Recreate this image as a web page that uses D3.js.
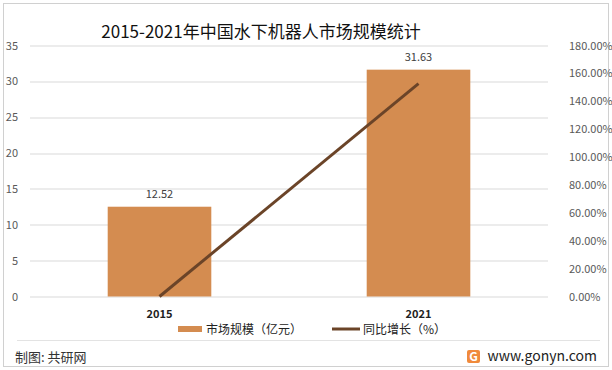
<!DOCTYPE html>
<html>
<head>
<meta charset="utf-8">
<script src="https://cdn.jsdelivr.net/npm/d3@7"></script>
<style>
  body { margin: 0; background: #fff; }
  svg { display: block; }
</style>
</head>
<body>
<div id="chart"></div>
<script>
const years = ["2015", "2021"];
const marketSize = [12.52, 31.63];          // 亿元
const growth = [0, 152.64];                 // %
const leftTicks = [0, 5, 10, 15, 20, 25, 30, 35];
const rightTicks = [0, 20, 40, 60, 80, 100, 120, 140, 160, 180];

const W = 612, H = 370;
const margin = { top: 45.5, right: 64, bottom: 73.5, left: 30 };
const width = W - margin.left - margin.right;
const height = H - margin.top - margin.bottom;

const font = "'Microsoft YaHei', 'Noto Sans CJK SC', sans-serif";
const barColor = "#d48c50";
const lineColor = "#6b4428";

const svg = d3.select("#chart")
    .append("svg")
    .attr("width", W)
    .attr("height", H)
    .style("font-family", font);

// outer frame
svg.append("rect")
    .attr("x", 3.5).attr("y", 3.5)
    .attr("width", W - 7).attr("height", H - 7)
    .attr("fill", "#fff")
    .attr("stroke", "#d0d0d0");

svg.append("text")
    .attr("x", 261)
    .attr("y", 38)
    .attr("text-anchor", "middle")
    .style("font-size", "17px")
    .attr("fill", "#111")
    .text("2015-2021年中国水下机器人市场规模统计");

const g = svg.append("g")
    .attr("transform", `translate(${margin.left},${margin.top})`);

const x = d3.scaleBand().domain(years).range([0, width]).padding(0);
const y = d3.scaleLinear().domain([0, 35]).range([height, 0]);
const y2 = d3.scaleLinear().domain([0, 180]).range([height, 0]);

// gridlines
g.selectAll("line.grid")
    .data(leftTicks)
    .enter()
    .append("line")
    .attr("class", "grid")
    .attr("x1", 0).attr("x2", width)
    .attr("y1", d => Math.round(y(d)) + 0.5)
    .attr("y2", d => Math.round(y(d)) + 0.5)
    .attr("stroke", "#d9d9d9");

// left axis labels
g.selectAll("text.ly")
    .data(leftTicks)
    .enter()
    .append("text")
    .attr("x", -12)
    .attr("y", d => y(d) + 4)
    .attr("text-anchor", "end")
    .style("font-size", "11px")
    .attr("fill", "#595959")
    .text(d => d);

// right axis labels
g.selectAll("text.ry")
    .data(rightTicks)
    .enter()
    .append("text")
    .attr("x", width + 21)
    .attr("y", d => y2(d) + 4)
    .style("font-size", "11px")
    .attr("fill", "#595959")
    .text(d => d.toFixed(2) + "%");

const barW = x.bandwidth() * 0.4;

g.selectAll("rect.bar")
    .data(years)
    .enter()
    .append("rect")
    .attr("x", d => x(d) + x.bandwidth() / 2 - barW / 2)
    .attr("y", (d, i) => y(marketSize[i]))
    .attr("width", barW)
    .attr("height", (d, i) => height - y(marketSize[i]))
    .attr("fill", barColor);

g.selectAll("text.val")
    .data(years)
    .enter()
    .append("text")
    .attr("x", d => x(d) + x.bandwidth() / 2)
    .attr("y", (d, i) => y(marketSize[i]) - 9)
    .attr("text-anchor", "middle")
    .style("font-size", "11px")
    .attr("fill", "#404040")
    .text((d, i) => marketSize[i].toFixed(2));

// growth line
const line = d3.line()
    .x(d => x(d.year) + x.bandwidth() / 2)
    .y(d => y2(d.v));

g.append("path")
    .datum(years.map((d, i) => ({ year: d, v: growth[i] })))
    .attr("d", line)
    .attr("fill", "none")
    .attr("stroke", lineColor)
    .attr("stroke-width", 3);

// x labels
g.selectAll("text.xl")
    .data(years)
    .enter()
    .append("text")
    .attr("x", d => x(d) + x.bandwidth() / 2)
    .attr("y", height + 21)
    .attr("text-anchor", "middle")
    .style("font-size", "11px")
    .style("font-weight", "bold")
    .attr("fill", "#222")
    .text(d => d);

// legend
const lg = svg.append("g").attr("transform", "translate(178,329)");
lg.append("rect")
    .attr("x", 0).attr("y", -3)
    .attr("width", 24).attr("height", 6)
    .attr("fill", barColor);
lg.append("text")
    .attr("x", 28).attr("y", 5)
    .style("font-size", "12px")
    .attr("fill", "#222")
    .text("市场规模（亿元）");
lg.append("line")
    .attr("x1", 154).attr("x2", 182)
    .attr("y1", 0).attr("y2", 0)
    .attr("stroke", lineColor)
    .attr("stroke-width", 3);
lg.append("text")
    .attr("x", 185).attr("y", 5)
    .style("font-size", "12px")
    .attr("fill", "#222")
    .text("同比增长（%）");

// footer
svg.append("line")
    .attr("x1", 17).attr("x2", 600)
    .attr("y1", 340.5).attr("y2", 340.5)
    .attr("stroke", "#e3e3e3");

svg.append("text")
    .attr("x", 15).attr("y", 362)
    .style("font-size", "13px")
    .attr("fill", "#333")
    .text("制图: 共研网");

const logo = svg.append("g").attr("transform", "translate(467,350)");
logo.append("rect")
    .attr("width", 13).attr("height", 13)
    .attr("rx", 2)
    .attr("fill", "#f08a3c");
logo.append("text")
    .attr("x", 6.5).attr("y", 11)
    .attr("text-anchor", "middle")
    .style("font-size", "12px")
    .style("font-weight", "bold")
    .attr("fill", "#fff")
    .text("G");

svg.append("text")
    .attr("x", 597).attr("y", 361)
    .attr("text-anchor", "end")
    .style("font-size", "14px")
    .attr("fill", "#222")
    .text("www.gonyn.com");
</script>
</body>
</html>
